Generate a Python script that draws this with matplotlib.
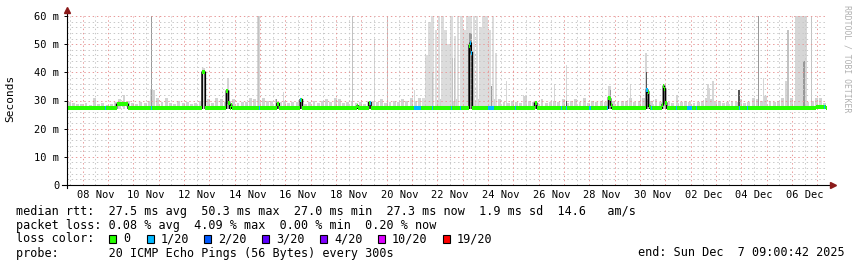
import datetime as dt

import matplotlib
matplotlib.use("Agg")
import matplotlib.dates as mdates
import matplotlib.pyplot as plt
import numpy as np
from matplotlib.collections import LineCollection
from matplotlib.patches import Rectangle

# ---- data ----
START = dt.datetime(2025, 11, 7, 9, 0, 42)
N_DAYS = 30
N_HOURS = 720
BASE_RTT = 27.3        # ms, flat median
SMOKE_FLOOR = 27.0     # ms, min ping

# median rtt excursions: hour index range (inclusive) -> value [ms]
med_start = [47, 128, 151, 153, 155, 199, 221, 275, 286, 381, 382, 383, 443,
             513, 514, 515, 549, 550, 551, 564, 565, 566, 567, 710]
med_end = [57, 130, 152, 153, 155, 200, 222, 275, 287, 381, 382, 383, 444,
           513, 514, 515, 549, 550, 551, 564, 565, 566, 567, 718]
med_value = [28.6, 40.0, 33.3, 29.0, 28.3, 28.8, 30.2, 28.0, 29.2, 49.5, 50.3, 47.0, 29.0,
             31.0, 30.5, 28.5, 33.7, 33.0, 28.0, 28.5, 35.0, 34.0, 29.0, 27.6]

# hours with 1/20 packet loss
loss_hours = [36, 80, 182, 221, 287, 329, 330, 331, 332, 333, 334, 346, 364, 372,
              382, 383, 399, 400, 401, 402, 403, 404, 424, 468, 473, 495, 512,
              549, 553, 577, 587, 588, 589, 590, 591, 596, 637, 644, 717]

# low smoke ("grass"), max ping per 4h slot, one row per day from START
grass_top = [
    [29.5, 29.2, 28.6, 28.8, 29.0, 28.5],
    [31.0, 28.8, 29.0, 28.5, 28.7, 29.3],
    [30.5, 32.0, 30.0, 29.0, 28.8, 29.5],
    [29.0, 30.0, 33.7, 31.0, 29.5, 31.0],
    [29.2, 28.8, 30.0, 29.0, 29.5, 28.7],
    [29.0, 30.0, 29.5, 30.5, 29.0, 31.0],
    [30.5, 29.5, 30.0, 30.5, 29.0, 29.5],
    [29.5, 31.0, 30.5, 29.5, 31.0, 30.0],
    [30.0, 30.5, 29.5, 30.0, 29.0, 29.5],
    [29.5, 29.0, 28.8, 29.5, 30.0, 29.2],
    [30.0, 30.5, 29.5, 31.0, 30.5, 29.0],
    [29.5, 30.0, 29.0, 29.5, 28.8, 30.0],
    [30.0, 29.5, 30.5, 29.0, 29.5, 30.0],
    [29.5, 30.5, 30.0, 31.0, 30.0, 31.0],
    [31.0, 30.0, 30.5, 30.0, 30.5, 30.0],
    [30.5, 30.0, 30.5, 30.0, 30.5, 30.0],
    [30.0, 30.5, 30.0, 30.5, 30.0, 30.5],
    [30.5, 29.5, 29.0, 30.0, 29.5, 29.0],
    [31.5, 30.0, 29.5, 29.0, 30.5, 29.0],
    [29.5, 30.0, 29.5, 30.5, 29.0, 30.0],
    [30.5, 29.5, 31.0, 29.0, 30.0, 29.5],
    [30.0, 29.5, 30.5, 30.0, 29.5, 30.0],
    [30.0, 31.0, 29.5, 30.0, 31.0, 30.5],
    [30.0, 30.5, 29.5, 29.0, 29.5, 29.0],
    [29.0, 29.5, 30.0, 29.5, 29.0, 29.5],
    [30.0, 31.0, 30.5, 29.5, 30.0, 29.0],
    [29.5, 30.0, 29.5, 30.5, 29.0, 29.5],
    [31.0, 30.5, 30.0, 31.5, 30.0, 29.5],
    [30.0, 31.0, 30.5, 31.0, 30.0, 30.5],
    [30.5, 29.5, 30.0, 31.0, 31.0, 29.0],
]

# the 21-24 Nov storm: max ping per 3h slot from day 14.0
big_top = [31, 46, 58, 61, 55, 61, 61, 55, 50, 61, 53, 61,
           61, 55, 61, 61, 61, 61, 56, 61, 61, 55, 61, 47]

# isolated smoke spikes: day offset, max ping [ms], width [h]
light_t = [3.29, 5.40, 6.35, 7.55, 8.55, 9.26, 12.14, 13.72, 17.34, 18.01, 19.24, 19.71,
           21.40, 22.23, 22.63, 22.87, 23.57, 24.08, 25.29, 25.38, 25.50, 27.51, 28.38,
           28.81, 28.93, 29.05, 29.17]
light_top = [34, 41.5, 38, 61, 33, 31, 52, 33.7, 37, 32, 36, 42.6,
             35, 36, 32, 46.8, 36, 32, 36, 34.5, 37, 38, 37,
             61, 61, 61, 61]
light_w = [1, 3, 2, 3, 1, 2, 1, 1.5, 1, 1, 1, 1.5,
           3, 1, 1, 2, 3, 1, 2, 1, 1, 1, 2.5,
           3, 3, 3, 2]

soft_t = [7.55, 11.27, 12.65, 28.46, 29.40, 14.43, 15.21, 15.29]
soft_top = [61, 61, 61, 55, 61, 40, 45, 45]
soft_w = [1.2, 1, 1, 1, 1, 1, 1, 1]

mid_t = [3.35, 8.28, 15.92, 16.75, 21.44, 27.28, 29.09]
mid_top = [61, 30.5, 54, 35, 33.7, 61, 44]
mid_w = [0.8, 1, 3, 1, 1, 1, 2]

dark_t = [19.71, 22.89, 26.53]
dark_top = [30, 40, 33.7]
dark_w = [1, 1, 1.5]

loss_labels = ["0", "1/20", "2/20", "3/20", "4/20", "10/20", "19/20"]
loss_colors = ["#26ff00", "#00b8ff", "#0059ff", "#5e00ff", "#7e00ff", "#dd00ff", "#ff0000"]

legend_lines = [
    "median rtt:  27.5 ms avg  50.3 ms max  27.0 ms min  27.3 ms now  1.9 ms sd  14.6   am/s",
    "packet loss: 0.08 % avg  4.09 % max  0.00 % min  0.20 % now",
]
probe_line = "probe:       20 ICMP Echo Pings (56 Bytes) every 300s"
end_line = "end: Sun Dec  7 09:00:42 2025"

# ---- figure ----
MONO = "DejaVu Sans Mono"
W, H = 857, 267
fig = plt.figure(figsize=(W / 100, H / 100), dpi=100)
fig.patch.set_facecolor("white")
ax = fig.add_axes([67 / W, 82 / H, 760 / W, 169 / H])
t0 = mdates.date2num(START)
ax.set_xlim(t0, t0 + N_DAYS)
ax.set_ylim(0, 60)
for s in ax.spines.values():
    s.set_visible(False)


def smoke(ts, tops, widths, color, z):
    ts = np.asarray(ts, float)
    tops = np.asarray(tops, float)
    ax.bar(t0 + ts, tops - SMOKE_FLOOR, width=np.asarray(widths) / 24.0, bottom=SMOKE_FLOOR,
           color=color, linewidth=0, align="center", zorder=z)


# grass
g = np.asarray(grass_top)
gt = np.arange(g.size) / 6.0 + 2.0 / 24
smoke(gt, g.ravel(), np.full(g.size, 2.8), "#d2d2d2", 1)
bt = 14.0 + np.arange(len(big_top)) * 3 / 24.0 + 1.5 / 24
smoke(bt, big_top, np.full(len(big_top), 2.5), "#dcdcdc", 1)
smoke(light_t, light_top, light_w, "#d6d6d6", 1)
smoke(soft_t, soft_top, soft_w, "#c2c2c2", 2)
smoke(mid_t, mid_top, mid_w, "#999999", 3)
smoke(dark_t, dark_top, dark_w, "#555555", 3)

# grid (rrdtool draws it over the smoke), 1px on / 2px off
dot = (0, (1.4, 2.8))
GRID_MINOR = "#c8c8c8"
GRID_MAJOR = "#e89a9a"
for v in range(2, 60, 2):
    if v % 10:
        ax.axhline(v, color=GRID_MINOR, lw=0.72, ls=dot, zorder=4)
for v in range(10, 61, 10):
    ax.axhline(v, color=GRID_MAJOR, lw=0.72, ls=dot, zorder=4)
first_mid = mdates.date2num(dt.datetime(2025, 11, 8))
for d in range(N_DAYS):
    ax.axvline(first_mid + d - 0.5, color=GRID_MINOR, lw=0.72, ls=dot, zorder=4)
    ax.axvline(first_mid + d, color=GRID_MAJOR, lw=0.72, ls=dot, zorder=4)

# median line
median = np.full(N_HOURS, BASE_RTT)
for a, b, v in zip(med_start, med_end, med_value):
    median[a:b + 1] = v
loss = np.zeros(N_HOURS, int)
loss[loss_hours] = 1
edges = t0 + np.arange(N_HOURS + 1) / 24.0
ax.stairs(median, edges, baseline=None, color="black", lw=1.2, zorder=5)
segs, cols = [], []
h = 0
while h < N_HOURS:
    k = h
    while k + 1 < N_HOURS and median[k + 1] == median[h] and loss[k + 1] == loss[h]:
        k += 1
    segs.append([(edges[h], median[h]), (edges[k + 1], median[h])])
    cols.append(loss_colors[loss[h]])
    h = k + 1
ax.add_collection(LineCollection(segs, colors=cols, linewidths=2.9, capstyle="butt", zorder=6))

# axes with arrows
ax.plot([-0.006, 1.006], [0, 0], transform=ax.transAxes, color="black", lw=0.8,
        clip_on=False, zorder=7)
ax.plot([0, 0], [-0.018, 1.03], transform=ax.transAxes, color="black", lw=0.8,
        clip_on=False, zorder=7)
ax.plot([1.008], [0], marker=">", ms=4.5, color="#8b1a1a", transform=ax.transAxes,
        clip_on=False, zorder=8)
ax.plot([0], [1.033], marker="^", ms=4.5, color="#8b1a1a", transform=ax.transAxes,
        clip_on=False, zorder=8)

ax.set_yticks(range(0, 61, 10))
ax.set_yticklabels(["0"] + [f"{v} m" for v in range(10, 61, 10)], family=MONO, fontsize=7.5)
ax.tick_params(axis="y", length=2.5, width=0.7, pad=3)
xt = [mdates.date2num(dt.datetime(2025, 11, 8, 12)) + 2 * k for k in range(15)]
ax.set_xticks(xt)
ax.set_xticklabels([mdates.num2date(x).strftime("%d %b") for x in xt], family=MONO, fontsize=7.5)
ax.tick_params(axis="x", length=0, pad=3.5)

fig.text(10 / W, 1 - 98 / H, "Seconds", rotation=90, family=MONO, fontsize=8,
         ha="center", va="center")
fig.text(847 / W, 1 - 59 / H, "RRDTOOL / TOBI OETIKER", rotation=270, family=MONO,
         fontsize=5.9, color="#b0b0b0", ha="center", va="center")

# legend block
LEG = 8.5
fig.text(16 / W, 1 - 212 / H, legend_lines[0], family=MONO, fontsize=LEG, va="center")
fig.text(16 / W, 1 - 225 / H, legend_lines[1], family=MONO, fontsize=LEG, va="center")
fig.text(16 / W, 1 - 239 / H, "loss color:", family=MONO, fontsize=LEG, va="center")
box_x = [109, 147, 204, 262, 320, 378, 443]
for bx, lab, c in zip(box_x, loss_labels, loss_colors):
    fig.patches.append(Rectangle((bx / W, 1 - 243 / H), 7 / W, 8 / H, transform=fig.transFigure,
                                 facecolor=c, edgecolor="black", lw=0.8))
    fig.text((bx + 14) / W, 1 - 239 / H, lab, family=MONO, fontsize=LEG, va="center")
fig.text(16 / W, 1 - 253 / H, probe_line, family=MONO, fontsize=LEG, va="center")
fig.text(638 / W, 1 - 253 / H, end_line, family=MONO, fontsize=LEG, va="center")

fig.savefig("out.png", dpi=100, facecolor="white")
